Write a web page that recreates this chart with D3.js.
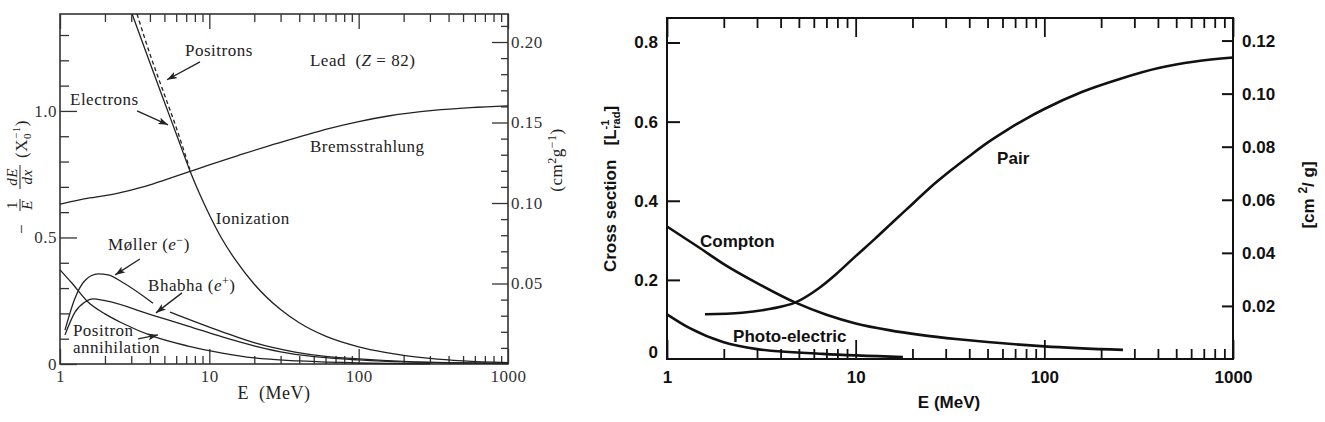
<!DOCTYPE html>
<html>
<head>
<meta charset="utf-8">
<script src="https://cdn.jsdelivr.net/npm/d3@7"></script>
<style>
  body { margin: 0; background: #fff; }
  svg { display: block; }
</style>
</head>
<body>
<div id="chart"></div>
<script>
/** DATA — left panel: lead, -1/E dE/dx in X0^-1 vs E (MeV) */
const bremsE = [1, 1.26, 1.58, 2.0, 2.5, 3.16, 4, 5, 7.1, 10, 15.8, 25, 40, 63, 100, 158, 316, 562, 1000];
const bremsV = [0.632, 0.645, 0.656, 0.665, 0.676, 0.691, 0.708, 0.727, 0.757, 0.787, 0.825, 0.862, 0.897, 0.93, 0.958, 0.98, 1.002, 1.013, 1.02];

const ionE = [3.04, 4, 5, 6, 7.4, 8.5, 10, 12, 15, 20, 30, 40, 60, 100, 150, 200, 300, 500, 1000];
const ionV = [1.383, 1.19, 1.035, 0.91, 0.765, 0.68, 0.59, 0.50, 0.41, 0.315, 0.215, 0.163, 0.11, 0.068, 0.046, 0.034, 0.022, 0.012, 0.005];

const posIonE = [3.28, 4, 5, 6, 7.4];
const posIonV = [1.383, 1.225, 1.065, 0.935, 0.77];

// null = gap in the Møller curve where the Bhabha arrow passes
const mollerE = [1.08, 1.26, 1.47, 1.8, 2.1, 2.6, 4.2, 4.8, 5.45, 12.2, 20.2, 37.5, 60, 100, 200, 400, 1000];
const mollerV = [0.134, 0.26, 0.33, 0.356, 0.352, 0.324, 0.24, null, 0.205, 0.127, 0.083, 0.047, 0.03, 0.02, 0.01, 0.005, 0.003];

const bhabhaE = [1.08, 1.26, 1.47, 1.66, 2.0, 4.3, 7.2, 12.2, 20.2, 33.6, 60, 100, 200, 1000];
const bhabhaV = [0.115, 0.205, 0.245, 0.257, 0.25, 0.19, 0.15, 0.107, 0.071, 0.043, 0.025, 0.016, 0.008, 0.002];

const annihE = [1, 1.2, 1.54, 2.0, 2.6, 4.3, 7.2, 12.2, 20, 40, 100, 300];
const annihV = [0.372, 0.32, 0.245, 0.198, 0.162, 0.107, 0.071, 0.043, 0.024, 0.012, 0.004, 0.001];

const leftYMajor = [0, 0.5, 1.0];
const leftY2Major = [0.05, 0.10, 0.15, 0.20];
const xMajor = [1, 10, 100, 1000];

/** DATA — right panel: photon cross sections in lead, L_rad^-1 vs E (MeV) */
const pairE = [1.59, 2.5, 3.55, 4.8, 6.3, 7.9, 10, 12.6, 15.8, 20, 25, 31.6, 39.8, 50, 63, 79, 100, 158, 251, 398, 631, 1000];
const pairV = [0.113, 0.117, 0.127, 0.143, 0.177, 0.215, 0.26, 0.303, 0.347, 0.392, 0.435, 0.475, 0.512, 0.547, 0.578, 0.606, 0.632, 0.675, 0.708, 0.735, 0.752, 0.762];

const comptonE = [1, 1.5, 2, 3, 4.77, 7, 10, 15, 22, 35, 50, 100, 261];
const comptonV = [0.335, 0.28, 0.24, 0.192, 0.143, 0.112, 0.09, 0.073, 0.061, 0.05, 0.043, 0.032, 0.023];

const photoE = [1, 1.32, 1.98, 3.0, 6.7, 17.8];
const photoV = [0.113, 0.078, 0.043, 0.025, 0.013, 0.005];

const rightYMajor = [0.2, 0.4, 0.6, 0.8];
const rightY2Major = [0.02, 0.04, 0.06, 0.08, 0.10, 0.12];

const zip = (xs, ys) => xs.map((x, i) => ({ e: x, v: ys[i] }));

/** MAIN */
const width = 1325, height = 422;
const svg = d3.select("#chart").append("svg")
  .attr("width", width)
  .attr("height", height);

const defs = svg.append("defs");
defs.append("marker")
  .attr("id", "arr")
  .attr("markerUnits", "userSpaceOnUse")
  .attr("markerWidth", 10).attr("markerHeight", 7)
  .attr("refX", 10).attr("refY", 3.5)
  .attr("orient", "auto")
  .append("path").attr("d", "M0,0 L10,3.5 L0,7 L2.5,3.5 z").attr("fill", "#222");

// helper: axis with inside ticks, strip domain
function ax(g, axis, color, sw) {
  g.call(axis);
  g.select(".domain").remove();
  g.attr("font-family", null).attr("font-size", null).attr("fill", null);
  g.selectAll("line").attr("stroke", color).attr("stroke-width", sw);
  g.selectAll("text").attr("fill", color);
  return g;
}

/* ===================== LEFT PANEL ===================== */
const xL = d3.scaleLog().domain([1, 1000]).range([60, 508]);
const yL = d3.scaleLinear().domain([0, 1.383]).range([364, 14]);
const yL2 = d3.scaleLinear().domain([0, 0.2174]).range([364, 14]);

const gL = svg.append("g")
  .style("font-family", "'Liberation Serif', serif")
  .style("letter-spacing", "0.5px")
  .attr("font-size", 17)
  .attr("fill", "#222");

const colL = "#333";
const xMinor = xL.ticks().filter(d => !xMajor.includes(d));

ax(gL.append("g").attr("transform", "translate(0,364)"),
  d3.axisBottom(xL).tickValues(xMinor).tickSize(-8).tickFormat(""), colL, 1.3);
ax(gL.append("g").attr("transform", "translate(0,364)"),
  d3.axisBottom(xL).tickValues(xMajor).tickSize(-15).tickPadding(6).tickFormat(d3.format("d")), colL, 1.3);
ax(gL.append("g").attr("transform", "translate(0,14)"),
  d3.axisTop(xL).tickValues(xMinor).tickSize(-8).tickFormat(""), colL, 1.3);
ax(gL.append("g").attr("transform", "translate(0,14)"),
  d3.axisTop(xL).tickValues(xMajor).tickSize(-15).tickFormat(""), colL, 1.3);

const lyMinor = d3.range(1, 14).map(d => d / 10).filter(d => d !== 0.5 && d !== 1.0);
ax(gL.append("g").attr("transform", "translate(60,0)"),
  d3.axisLeft(yL).tickValues(lyMinor).tickSize(-9).tickFormat(""), colL, 1.3);
ax(gL.append("g").attr("transform", "translate(60,0)"),
  d3.axisLeft(yL).tickValues(leftYMajor).tickSize(-17).tickPadding(3)
    .tickFormat(d => d === 0 ? "0" : d3.format(".1f")(d)), colL, 1.3);

const ry2Minor = d3.range(1, 22).map(d => d / 100).filter(d => Math.round(d * 100) % 5 !== 0);
ax(gL.append("g").attr("transform", "translate(508,0)"),
  d3.axisRight(yL2).tickValues(ry2Minor).tickSize(-7).tickFormat(""), colL, 1.3);
ax(gL.append("g").attr("transform", "translate(508,0)"),
  d3.axisRight(yL2).tickValues(leftY2Major).tickSize(-16).tickPadding(3).tickFormat(d3.format(".2f")), colL, 1.3);

gL.append("rect")
  .attr("x", xL(1)).attr("y", yL(1.383))
  .attr("width", xL(1000) - xL(1)).attr("height", yL(0) - yL(1.383))
  .attr("fill", "none").attr("stroke", colL).attr("stroke-width", 1.6);

const lineL = d3.line()
  .defined(d => d.v != null)
  .x(d => xL(d.e)).y(d => yL(d.v))
  .curve(d3.curveMonotoneX);

const curvesL = [
  zip(bremsE, bremsV), zip(ionE, ionV), zip(mollerE, mollerV),
  zip(bhabhaE, bhabhaV), zip(annihE, annihV)
];
gL.append("g").selectAll("path")
  .data(curvesL)
  .join("path")
  .attr("d", lineL)
  .attr("fill", "none")
  .attr("stroke", "#222")
  .attr("stroke-width", 1.3);

gL.append("path")
  .datum(zip(posIonE, posIonV))
  .attr("d", lineL)
  .attr("fill", "none")
  .attr("stroke", "#222")
  .attr("stroke-width", 1.3)
  .attr("stroke-dasharray", "4,3");

// arrows (data coords)
const arrowsL = [
  [8.66, 1.194, 5.21, 1.123],
  [3.28, 1.0, 5.29, 0.945],
  [3.43, 0.415, 2.34, 0.352],
  [6.56, 0.281, 4.39, 0.202],
  [3.33, 0.099, 4.53, 0.115]
];
gL.append("g").selectAll("line")
  .data(arrowsL)
  .join("line")
  .attr("x1", d => xL(d[0])).attr("y1", d => yL(d[1]))
  .attr("x2", d => xL(d[2])).attr("y2", d => yL(d[3]))
  .attr("stroke", "#222").attr("stroke-width", 1.3)
  .attr("marker-end", "url(#arr)");

// labels
function lab(g, x, y, parts) {
  const t = g.append("text").attr("x", x).attr("y", y);
  parts.forEach(p => {
    const s = t.append("tspan").text(p.t);
    if (p.i) s.attr("font-style", "italic");
    if (p.dy) s.attr("dy", p.dy);
    if (p.dx) s.attr("dx", p.dx);
    if (p.fs) s.attr("font-size", p.fs);
  });
  return t;
}
lab(gL, xL(6.87), yL(1.217), [{ t: "Positrons" }]);
lab(gL, xL(47.2), yL(1.178), [{ t: "Lead\u00a0\u00a0(" }, { t: "Z", i: 1 }, { t: " = 82)" }]);
lab(gL, xL(1.167), yL(1.024), [{ t: "Electrons" }]);
lab(gL, xL(47.2), yL(0.838), [{ t: "Bremsstrahlung" }]);
lab(gL, xL(11.05), yL(0.553), [{ t: "Ionization" }]);
lab(gL, xL(2.10), yL(0.451), [{ t: "Møller (" }, { t: "e", i: 1 }, { t: "−", dy: -6, fs: 12 }, { t: ")", dy: 6 }]);
lab(gL, xL(3.89), yL(0.289), [{ t: "Bhabha (" }, { t: "e", i: 1 }, { t: "+", dy: -6, fs: 12 }, { t: ")", dy: 6 }]);
lab(gL, xL(1.22), yL(0.111), [{ t: "Positron" }]);
lab(gL, xL(1.22), yL(0.043), [{ t: "annihilation" }]);

gL.append("text")
  .attr("x", (xL(1) + xL(1000)) / 2 - 10).attr("y", 399)
  .attr("text-anchor", "middle")
  .attr("font-size", 18)
  .text("E\u00a0\u00a0(MeV)");

// left y title: −(1/E)(dE/dx) (X0^-1)
const yt = gL.append("g").attr("transform", "translate(21,173) rotate(-90)");
yt.append("text").attr("x", -61).attr("y", 6).text("−");
yt.append("text").attr("x", -32).attr("y", -4).attr("text-anchor", "middle").attr("font-size", 15).text("1");
yt.append("line").attr("x1", -38).attr("x2", -26).attr("y1", -1).attr("y2", -1).attr("stroke", "#222").attr("stroke-width", 1);
yt.append("text").attr("x", -32).attr("y", 11).attr("text-anchor", "middle").attr("font-size", 15).attr("font-style", "italic").text("E");
yt.append("text").attr("x", -4).attr("y", -4).attr("text-anchor", "middle").attr("font-size", 15).attr("font-style", "italic").text("dE");
yt.append("line").attr("x1", -16).attr("x2", 8).attr("y1", -1).attr("y2", -1).attr("stroke", "#222").attr("stroke-width", 1);
yt.append("text").attr("x", -4).attr("y", 11).attr("text-anchor", "middle").attr("font-size", 15).attr("font-style", "italic").text("dx");
lab(yt, 15, 6, [{ t: "(X" }, { t: "0", dy: 4, fs: 11 }, { t: "−1", dy: -11, dx: -6, fs: 11 }, { t: ")", dy: 7 }]);

// right y title: (cm^2 g^-1)
const yt2 = gL.append("g").attr("transform", "translate(562,160) rotate(-90)");
lab(yt2, 0, 0, [{ t: "(cm" }, { t: "2", dy: -6, fs: 12 }, { t: "g", dy: 6 }, { t: "−1", dy: -6, fs: 12 }, { t: ")", dy: 6 }])
  .attr("text-anchor", "middle");

/* ===================== RIGHT PANEL ===================== */
const xR = d3.scaleLog().domain([1, 1000]).range([667, 1233]);
const yR = d3.scaleLinear().domain([0, 0.862]).range([359, 18]);
const yR2 = d3.scaleLinear().domain([0, 0.1285]).range([359, 18]);

const gR = svg.append("g")
  .style("font-family", "'Liberation Sans', Arial, sans-serif")
  .attr("font-weight", "bold")
  .attr("font-size", 17)
  .attr("fill", "#111");

const colR = "#111";
const xMinorR = xR.ticks().filter(d => !xMajor.includes(d));

ax(gR.append("g").attr("transform", "translate(0,359)"),
  d3.axisBottom(xR).tickValues(xMinorR).tickSize(-10).tickFormat(""), colR, 1.8);
ax(gR.append("g").attr("transform", "translate(0,359)"),
  d3.axisBottom(xR).tickValues(xMajor).tickSize(-19).tickPadding(12).tickFormat(d3.format("d")), colR, 1.8);
ax(gR.append("g").attr("transform", "translate(0,18)"),
  d3.axisTop(xR).tickValues(xMinorR).tickSize(-10).tickFormat(""), colR, 1.8);
ax(gR.append("g").attr("transform", "translate(0,18)"),
  d3.axisTop(xR).tickValues(xMajor).tickSize(-19).tickFormat(""), colR, 1.8);

ax(gR.append("g").attr("transform", "translate(667,0)"),
  d3.axisLeft(yR).tickValues(rightYMajor).tickSize(-13).tickPadding(9).tickFormat(d3.format(".1f")), colR, 2);
// "0" label on left axis without a tick
gR.append("text").attr("x", 658).attr("y", yR(0)).attr("dy", "-0.05em")
  .attr("text-anchor", "end").text("0");

ax(gR.append("g").attr("transform", "translate(1233,0)"),
  d3.axisRight(yR2).tickValues(rightY2Major).tickSize(-11).tickPadding(9).tickFormat(d3.format(".2f")), colR, 2);

gR.append("rect")
  .attr("x", xR(1)).attr("y", yR(0.862))
  .attr("width", xR(1000) - xR(1)).attr("height", yR(0) - yR(0.862))
  .attr("fill", "none").attr("stroke", colR).attr("stroke-width", 2);

const lineR = d3.line()
  .x(d => xR(d.e)).y(d => yR(d.v))
  .curve(d3.curveMonotoneX);

gR.append("g").selectAll("path")
  .data([zip(pairE, pairV), zip(comptonE, comptonV), zip(photoE, photoV)])
  .join("path")
  .attr("d", lineR)
  .attr("fill", "none")
  .attr("stroke", "#111")
  .attr("stroke-width", 2.6);

gR.append("text").attr("x", xR(1.497)).attr("y", yR(0.282)).text("Compton");
gR.append("text").attr("x", xR(2.24)).attr("y", yR(0.043)).text("Photo-electric");
gR.append("text").attr("x", xR(56.2)).attr("y", yR(0.493)).text("Pair");

gR.append("text")
  .attr("x", 949).attr("y", 408)
  .attr("text-anchor", "middle")
  .text("E (MeV)");

const ytR = gR.append("g").attr("transform", "translate(616,189) rotate(-90)");
lab(ytR, 0, 0, [
  { t: "Cross section\u00a0\u00a0\u00a0[L" },
  { t: "-1", dy: -7, fs: 11 },
  { t: "rad", dx: -9, dy: 11, fs: 11 },
  { t: "]", dy: -4 }
]).attr("text-anchor", "middle").attr("font-size", 17);

const ytR2 = gR.append("g").attr("transform", "translate(1314,195) rotate(-90)");
lab(ytR2, 0, 0, [{ t: "[cm " }, { t: "2", dy: -7, fs: 12 }, { t: "/ g]", dy: 7 }])
  .attr("text-anchor", "middle");
</script>
</body>
</html>
